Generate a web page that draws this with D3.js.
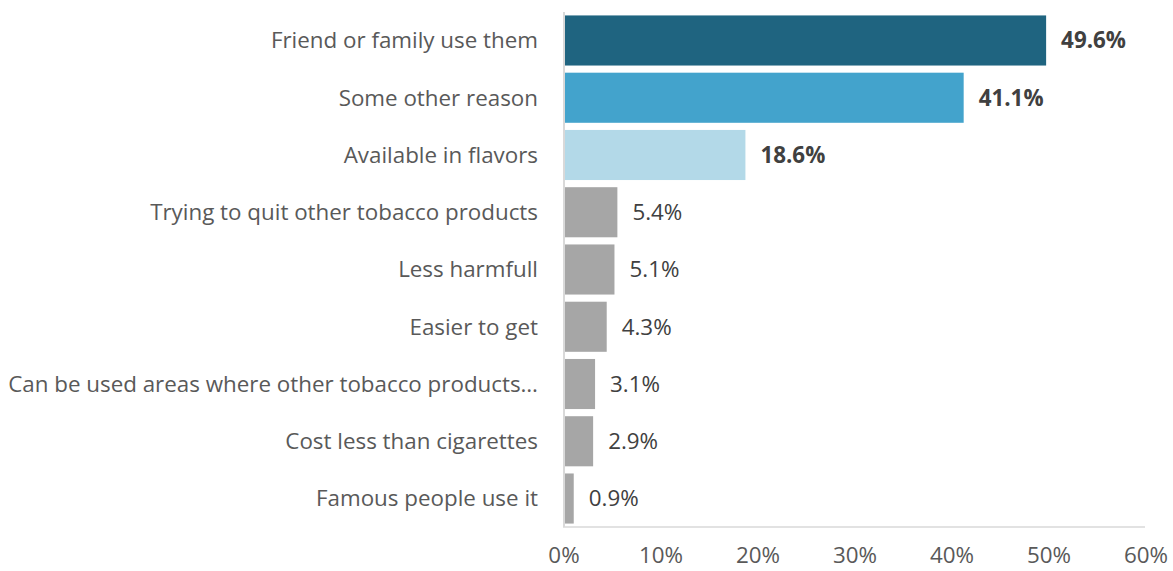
<!DOCTYPE html>
<html><head><meta charset="utf-8">
<script src="https://cdn.jsdelivr.net/npm/d3@7"></script>
<style>body{margin:0;background:#fff;} svg{display:block;}</style>
</head><body>
<svg id="chart" width="1173" height="571"></svg>
<script>
const categories = ["Friend or family use them","Some other reason","Available in flavors","Trying to quit other tobacco products","Less harmfull","Easier to get","Can be used areas where other tobacco products…","Cost less than cigarettes","Famous people use it"];
const values = [49.6,41.1,18.6,5.4,5.1,4.3,3.1,2.9,0.9];
const barColors = ["#1F6480","#43A3CC","#B3D9E8","#A6A6A6","#A6A6A6","#A6A6A6","#A6A6A6","#A6A6A6","#A6A6A6"];
const boldLabels = [true,true,true,false,false,false,false,false,false];
const xTicks = [0,10,20,30,40,50,60];

const svg = d3.select("#chart");
const font = "'Open Sans', sans-serif";
const x = d3.scaleLinear().domain([0,60]).range([565,1147]);
const y = d3.scaleBand().domain(categories).range([12,527]).paddingInner(0.125).paddingOuter(0.06);

// fit font size so longest label spans ~530px
const probe = svg.append("text").attr("font-family",font).attr("font-size",20).text(categories[6]);
const w20 = probe.node().getComputedTextLength();
probe.remove();
const fs = Math.min(24, 20*530/w20);

svg.selectAll("rect.bar").data(values).join("rect")
  .attr("class","bar")
  .attr("x", x(0))
  .attr("y",(d,i)=>y(categories[i]))
  .attr("width", d=>x(d)-x(0))
  .attr("height", y.bandwidth())
  .attr("fill",(d,i)=>barColors[i]);

svg.append("line").attr("x1",x(0)-1).attr("x2",x(0)-1).attr("y1",12).attr("y2",527)
  .attr("stroke","#d9d9d9").attr("stroke-width",2);
svg.append("line").attr("x1",x(0)-2).attr("x2",x(60)-2).attr("y1",527).attr("y2",527)
  .attr("stroke","#d9d9d9").attr("stroke-width",1.5);

svg.selectAll("text.cat").data(categories).join("text")
  .attr("class","cat")
  .attr("x",538)
  .attr("y",d=>y(d)+y.bandwidth()/2)
  .attr("dy","0.35em")
  .attr("text-anchor","end")
  .attr("font-family",font).attr("font-size",fs).attr("fill","#595959")
  .text(d=>d);

svg.selectAll("text.val").data(values).join("text")
  .attr("class","val")
  .attr("x",d=>x(d)+15)
  .attr("y",(d,i)=>y(categories[i])+y.bandwidth()/2)
  .attr("dy","0.35em")
  .attr("font-family",font).attr("font-size",fs)
  .attr("font-weight",(d,i)=>boldLabels[i]?"bold":"normal")
  .attr("fill","#404040")
  .text(d=>d.toFixed(1)+"%");

svg.selectAll("text.tick").data(xTicks).join("text")
  .attr("class","tick")
  .attr("x",d=>x(d)-1)
  .attr("y",563)
  .attr("text-anchor","middle")
  .attr("font-family",font).attr("font-size",fs).attr("fill","#595959")
  .text(d=>d+"%");
</script>
</body></html>
